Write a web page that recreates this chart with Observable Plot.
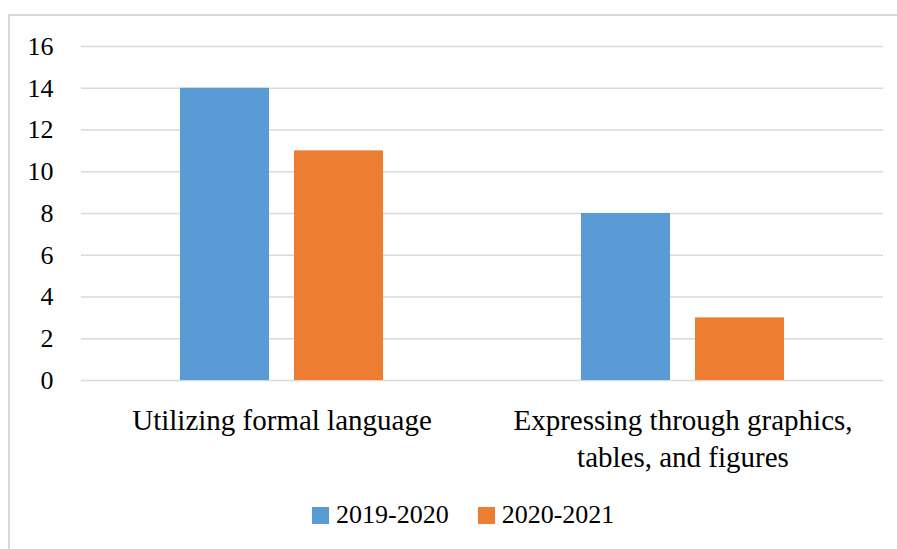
<!DOCTYPE html>
<html>
<head>
<meta charset="utf-8">
<script src="https://cdn.jsdelivr.net/npm/d3@7"></script>
<script src="https://cdn.jsdelivr.net/npm/@observablehq/plot@0.6"></script>
<style>
  html, body { margin: 0; padding: 0; background: #fff; }
  #wrap { position: relative; width: 897px; height: 549px; overflow: hidden; background: #fff; font-family: "Liberation Serif", "Times New Roman", serif; }
  #frame { position: absolute; left: 8px; top: 14px; width: 1000px; height: 1000px; border: 2px solid #d9d9d9; box-sizing: border-box; }
  #chart { position: absolute; left: 0; top: 0; }
  #chart svg text { font-family: "Liberation Serif", "Times New Roman", serif; }
  #legend { position: absolute; left: 312px; top: 500px; display: flex; align-items: center; gap: 29px; font-size: 26px; color: #000; font-family: "Liberation Serif", "Times New Roman", serif; }
  .item { display: flex; align-items: center; gap: 7px; }
  .sw { width: 17px; height: 17px; display: inline-block; }
</style>
</head>
<body>
<div id="wrap">
  <div id="frame"></div>
  <div id="chart"></div>
  <div id="legend"></div>
</div>
<script>
const categories = ["Utilizing formal language", "Expressing through graphics, tables, and figures"];
const categoryLabels = ["Utilizing formal language", "Expressing through graphics,\ntables, and figures"];
const series = ["2019-2020", "2020-2021"];
const values2019 = [14, 8];
const values2020 = [11, 3];
const yTicks = [0, 2, 4, 6, 8, 10, 12, 14, 16];
const colors = ["#5B9BD5", "#ED7D31"];

const seriesValues = [values2019, values2020];
const rows = [];
categories.forEach((c, i) => {
  series.forEach((s, j) => rows.push({category: c, series: s, value: seriesValues[j][i]}));
});

const plot = Plot.plot({
  width: 897,
  height: 480,
  marginLeft: 80,
  marginRight: 14,
  marginTop: 46,
  marginBottom: 100,
  style: {fontFamily: "'Liberation Serif', 'Times New Roman', serif", background: "transparent", color: "#000"},
  fx: {domain: categories, padding: 0, label: null},
  x: {domain: series, paddingInner: 0.218, paddingOuter: 0.865, axis: null},
  y: {domain: [0, 16], ticks: yTicks, label: null},
  color: {domain: series, range: colors},
  marks: [
    Plot.gridY(yTicks, {stroke: "#d9d9d9", strokeOpacity: 1, strokeWidth: 1.6}),
    Plot.barY(rows, {fx: "category", x: "series", y: "value", fill: "series", inset: 0}),
    Plot.axisY(yTicks, {tickSize: 0, tickPadding: 28, fontSize: 26, label: null, tickFormat: d => String(d)}),
    Plot.axisFx({anchor: "bottom", tickSize: 0, tickPadding: 24, fontSize: 29, lineHeight: 1.26, label: null,
      tickFormat: d => categoryLabels[categories.indexOf(d)]})
  ]
});
document.getElementById("chart").appendChild(plot);

const legend = document.getElementById("legend");
series.forEach((s, i) => {
  const item = document.createElement("div");
  item.className = "item";
  const sw = document.createElement("span");
  sw.className = "sw";
  sw.style.background = colors[i];
  const t = document.createElement("span");
  t.textContent = s;
  item.appendChild(sw);
  item.appendChild(t);
  legend.appendChild(item);
});
</script>
</body>
</html>
